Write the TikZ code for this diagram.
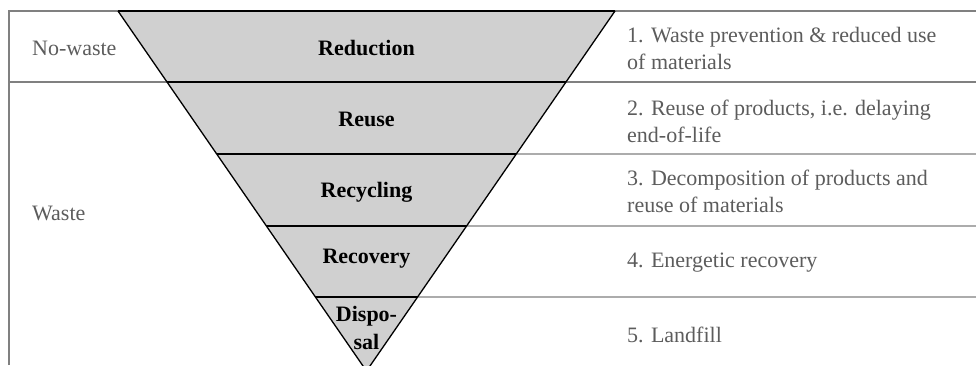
\documentclass[tikz,border=0pt]{standalone}
\usepackage{fontspec}
\setmainfont{Liberation Serif}
\usetikzlibrary{calc}
\definecolor{bandgray}{HTML}{D0D0D0}
\definecolor{rulegray}{HTML}{808080}
\definecolor{textgray}{HTML}{5C5C5C}
\tikzset{
    rule/.style={draw=rulegray, line width=1.3pt},
    band/.style={font=\fontsize{22}{28}\selectfont\bfseries, align=center},
    side/.style={text=textgray, anchor=west, align=left, inner sep=0pt},
}
\begin{document}
\begin{tikzpicture}[x=1pt, y=-1pt, font=\fontsize{22}{27}\selectfont]
\useasboundingbox (0,0) rectangle (976,365);
\clip (0,0) rectangle (976,365);
\coordinate (L) at (118,11);
\coordinate (R) at (615,11);
\coordinate (A) at (366.5,371);
% table
\draw[rule](9,365)--(9,11)--(976,11);
\draw[rule](9,82)--(976,82);
\foreach \t/\y in {0.3972/154, 0.5972/226, 0.7944/297}
{
    \draw[rule]($(R)!\t!(A)$)--(976,\y);
}
% pyramid
\fill[bandgray](L)--(R)--(A)--cycle;
\foreach \t in {0.1972, 0.3972, 0.5972, 0.7944}
{
    \draw[line width=1.3pt]($(L)!\t!(A)$)--($(R)!\t!(A)$);
}
\draw[line width=1.3pt](R)--(A)--(L);
\draw[line width=2pt](L)--(R);
\node[band](reduction) at (366.5,48){Reduction};
\node[band](reuse) at (366.5,119){Reuse};
\node[band](recycling) at (366.5,192){Recycling};
\node[band](recovery) at (366.5,259){Recovery};
\node[band](disposal) at (366.5,328){Dispo-\\sal};
\node[side](nowaste) at (32,48){No-waste};
\node[side](waste) at (32,213){Waste};
\node[side](prevention) at (627,48.5){1. Waste prevention \& reduced use\\of materials};
\node[side](reusetxt) at (627,121.5){2. Reuse of products, i.e. delaying\\end-of-life};
\node[side](decomp) at (627,191.5){3. Decomposition of products and\\reuse of materials};
\node[side](energy) at (627,263){4. Energetic recovery};
\node[side](landfill) at (627,335){5. Landfill};
\end{tikzpicture}
\end{document}
